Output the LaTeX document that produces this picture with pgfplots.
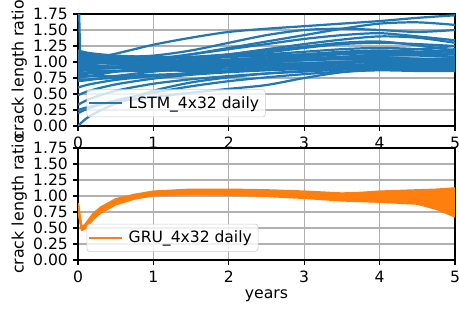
\documentclass[border=0pt]{standalone}
\usepackage{fontspec}
\setmainfont{DejaVu Sans}
\usepackage{pgfplots}
\pgfplotsset{compat=1.18}
\definecolor{mplblue}{HTML}{1F77B4}
\definecolor{mplorange}{HTML}{FF7F0E}
\pgfplotsset{
  mystyle/.style={
    width=271.4pt, height=80.6pt, scale only axis,
    xmin=0, xmax=5, ymin=0, ymax=1.75,
    xtick={0,1,2,3,4,5}, ytick={0,0.25,0.5,0.75,1,1.25,1.5,1.75},
    yticklabel style={/pgf/number format/.cd, fixed, fixed zerofill, precision=2},
    /pgf/number format/assume math mode=true,
    tick label style={font=\fontsize{11.2}{13}\selectfont},
    xticklabel style={yshift=-0.5pt},
    grid=major, major grid style={color=black!31, line width=0.85pt},
    axis line style={line width=0.85pt},
    tick style={line width=0.85pt, black},
    tick align=outside, major tick length=3.8pt,
    xtick pos=bottom, ytick pos=left,
    every axis y label/.style={at={(axis description cs:-0.156,0.5)}, rotate=90, anchor=center, font=\fontsize{11.4}{14}\selectfont},
    ylabel={crack length ratio},
    legend style={at={(axis description cs:0,0)}, anchor=south west, xshift=6.2pt, yshift=6.3pt,
      draw=black!20, fill=white, fill opacity=0.8, text opacity=1, rounded corners=2pt,
      font=\fontsize{11.2}{13}\selectfont, inner xsep=0.5pt, inner ysep=1.5pt,
      nodes={inner xsep=4pt, inner ysep=3.3pt}},
    legend cell align=left,
    legend image code/.code={\draw[#1, line width=1.6pt] (0pt,0pt) -- (24pt,0pt);},
  },
  lstm/.style={mplblue, line width=1.6pt, smooth, forget plot},
}
\begin{document}
\begin{tikzpicture}
\useasboundingbox (0,0) rectangle (330.5pt,-223.9pt);
\begin{axis}[mystyle, at={(56.2pt,-90.7pt)}, anchor=south west]
\addplot[mplblue, line width=1.6pt, smooth] coordinates {(0,1.00)(0.15,1.05)(0.5,1.13)(1,1.27)(1.5,1.38)(2,1.47)(2.5,1.52)(3,1.56)(3.5,1.60)(4,1.64)(4.5,1.69)(5,1.73)};
\addlegendentry{LSTM\_4x32 daily}
\addplot[lstm] coordinates {(0,1.05)(0.15,1.02)(0.5,1.00)(1,1.03)(1.5,1.12)(2,1.22)(2.5,1.32)(3,1.42)(3.5,1.52)(4,1.60)(4.5,1.62)(5,1.58)};
\addplot[lstm] coordinates {(0,1.12)(0.15,1.10)(0.5,1.08)(1,1.10)(1.5,1.18)(2,1.30)(2.5,1.42)(3,1.50)(3.5,1.52)(4,1.50)(4.5,1.47)(5,1.50)};
\addplot[lstm] coordinates {(0,0.95)(0.15,0.97)(0.5,1.00)(1,1.05)(1.5,1.12)(2,1.20)(2.5,1.28)(3,1.36)(3.5,1.42)(4,1.45)(4.5,1.40)(5,1.34)};
\addplot[lstm] coordinates {(0,0.85)(0.15,0.88)(0.5,0.92)(1,0.98)(1.5,1.05)(2,1.12)(2.5,1.20)(3,1.28)(3.5,1.35)(4,1.40)(4.5,1.38)(5,1.30)};
\addplot[lstm] coordinates {(0,1.15)(0.15,1.12)(0.5,1.08)(1,1.05)(1.5,1.06)(2,1.10)(2.5,1.15)(3,1.22)(3.5,1.28)(4,1.30)(4.5,1.28)(5,1.25)};
\addplot[lstm] coordinates {(0,1.08)(0.15,1.06)(0.5,1.05)(1,1.05)(1.5,1.08)(2,1.12)(2.5,1.18)(3,1.24)(3.5,1.30)(4,1.32)(4.5,1.26)(5,1.18)};
\addplot[lstm] coordinates {(0,0.75)(0.15,0.78)(0.5,0.85)(1,0.95)(1.5,1.02)(2,1.08)(2.5,1.12)(3,1.16)(3.5,1.20)(4,1.22)(4.5,1.20)(5,1.15)};
\addplot[lstm] coordinates {(0,1.00)(0.15,0.99)(0.5,0.98)(1,0.98)(1.5,1.00)(2,1.03)(2.5,1.07)(3,1.12)(3.5,1.16)(4,1.18)(4.5,1.16)(5,1.12)};
\addplot[lstm] coordinates {(0,0.92)(0.15,0.92)(0.5,0.93)(1,0.95)(1.5,0.97)(2,1.00)(2.5,1.03)(3,1.06)(3.5,1.08)(4,1.10)(4.5,1.10)(5,1.08)};
\addplot[lstm] coordinates {(0,1.10)(0.15,1.08)(0.5,1.03)(1,1.00)(1.5,0.99)(2,1.00)(2.5,1.02)(3,1.05)(3.5,1.08)(4,1.12)(4.5,1.15)(5,1.20)};
\addplot[lstm] coordinates {(0,0.80)(0.15,0.82)(0.5,0.85)(1,0.88)(1.5,0.92)(2,0.96)(2.5,1.00)(3,1.03)(3.5,1.05)(4,1.06)(4.5,1.05)(5,1.03)};
\addplot[lstm] coordinates {(0,0.70)(0.15,0.72)(0.5,0.78)(1,0.85)(1.5,0.90)(2,0.93)(2.5,0.96)(3,0.98)(3.5,1.00)(4,1.02)(4.5,1.02)(5,1.00)};
\addplot[lstm] coordinates {(0,1.02)(0.15,1.00)(0.5,0.97)(1,0.95)(1.5,0.94)(2,0.94)(2.5,0.95)(3,0.97)(3.5,1.00)(4,1.03)(4.5,1.05)(5,1.05)};
\addplot[lstm] coordinates {(0,0.88)(0.15,0.87)(0.5,0.86)(1,0.86)(1.5,0.88)(2,0.90)(2.5,0.93)(3,0.96)(3.5,0.99)(4,1.01)(4.5,1.00)(5,0.97)};
\addplot[lstm] coordinates {(0,0.60)(0.15,0.65)(0.5,0.72)(1,0.78)(1.5,0.83)(2,0.87)(2.5,0.90)(3,0.93)(3.5,0.95)(4,0.97)(4.5,0.97)(5,0.95)};
\addplot[lstm] coordinates {(0,0.48)(0.15,0.55)(0.5,0.65)(1,0.74)(1.5,0.80)(2,0.84)(2.5,0.87)(3,0.89)(3.5,0.91)(4,0.92)(4.5,0.92)(5,0.92)};
\addplot[lstm] coordinates {(0,0.33)(0.15,0.42)(0.5,0.55)(1,0.66)(1.5,0.73)(2,0.78)(2.5,0.82)(3,0.85)(3.5,0.88)(4,0.90)(4.5,0.90)(5,0.88)};
\addplot[lstm] coordinates {(0,0.25)(0.15,0.30)(0.5,0.38)(1,0.45)(1.5,0.52)(2,0.58)(2.5,0.64)(3,0.75)(3.5,0.84)(4,0.88)(4.5,0.89)(5,0.87)};
\addplot[lstm] coordinates {(0,0.20)(0.15,0.28)(0.5,0.40)(1,0.52)(1.5,0.62)(2,0.70)(2.5,0.76)(3,0.81)(3.5,0.85)(4,0.87)(4.5,0.86)(5,0.86)};
\addplot[lstm] coordinates {(0,0.72)(0.15,0.73)(0.5,0.75)(1,0.78)(1.5,0.82)(2,0.86)(2.5,0.90)(3,0.94)(3.5,0.98)(4,1.00)(4.5,0.98)(5,0.94)};
\addplot[lstm] coordinates {(0,0.78)(0.15,0.78)(0.5,0.78)(1,0.80)(1.5,0.82)(2,0.85)(2.5,0.88)(3,0.91)(3.5,0.93)(4,0.95)(4.5,0.95)(5,0.93)};
\addplot[lstm] coordinates {(0,0.98)(0.15,0.96)(0.5,0.92)(1,0.88)(1.5,0.86)(2,0.86)(2.5,0.88)(3,0.91)(3.5,0.94)(4,0.97)(4.5,0.99)(5,1.00)};
\addplot[lstm] coordinates {(0,1.06)(0.15,1.04)(0.5,1.02)(1,1.01)(1.5,1.02)(2,1.04)(2.5,1.07)(3,1.10)(3.5,1.13)(4,1.16)(4.5,1.20)(5,1.25)};
\addplot[lstm] coordinates {(0,0.90)(0.15,0.90)(0.5,0.90)(1,0.91)(1.5,0.93)(2,0.96)(2.5,0.99)(3,1.03)(3.5,1.07)(4,1.10)(4.5,1.12)(5,1.13)};
\addplot[lstm] coordinates {(0,1.13)(0.15,1.11)(0.5,1.07)(1,1.02)(1.5,0.98)(2,0.97)(2.5,0.97)(3,0.98)(3.5,1.00)(4,1.02)(4.5,1.04)(5,1.06)};
\addplot[lstm] coordinates {(0,0.83)(0.15,0.84)(0.5,0.86)(1,0.90)(1.5,0.95)(2,1.00)(2.5,1.04)(3,1.08)(3.5,1.12)(4,1.14)(4.5,1.12)(5,1.08)};
\addplot[lstm] coordinates {(0,0.00)(0.15,0.15)(0.5,0.35)(1,0.55)(1.5,0.68)(2,0.76)(2.5,0.82)(3,0.86)(3.5,0.89)(4,0.91)(4.5,0.92)(5,0.90)};
\addplot[lstm] coordinates {(0,0.95)(0.15,0.94)(0.5,0.93)(1,0.93)(1.5,0.95)(2,0.98)(2.5,1.01)(3,1.03)(3.5,1.04)(4,1.04)(4.5,1.02)(5,1.00)};
\addplot[lstm] coordinates {(0,1.18)(0.15,1.14)(0.5,1.10)(1,1.08)(1.5,1.08)(2,1.08)(2.5,1.10)(3,1.12)(3.5,1.14)(4,1.15)(4.5,1.15)(5,1.12)};
\addplot[mplblue, line width=1.6pt, forget plot] coordinates {(0,2.5)(0.03,1.0)(0.5,0.97)(1,0.97)(2,1.0)(3,1.05)(4,1.08)(5,1.02)};
\end{axis}
\begin{axis}[mystyle, at={(56.2pt,-187.2pt)}, anchor=south west,
  legend style={yshift=-0.3pt},
  xlabel={years},
  every axis x label/.style={at={(axis description cs:0.5,-0.318)}, anchor=center, font=\fontsize{11.3}{14}\selectfont}]
\addplot[mplorange, fill=mplorange, line width=1.6pt, line join=round, forget plot] coordinates {
(0,0.88)(0.02,0.70)(0.05,0.50)(0.1,0.56)(0.2,0.72)(0.3,0.82)(0.5,0.95)(0.75,1.02)(1,1.07)(1.5,1.10)(2,1.10)(2.5,1.09)(3,1.07)(3.5,1.04)(3.75,1.05)(4,1.07)(4.5,1.09)(4.75,1.10)(5,1.12)
(5,0.68)(4.75,0.80)(4.5,0.88)(4,0.91)(3.75,0.92)(3.5,0.93)(3,0.97)(2.5,1.00)(2,1.02)(1.5,1.03)(1,1.01)(0.75,0.96)(0.5,0.87)(0.3,0.74)(0.2,0.64)(0.1,0.50)(0.05,0.47)(0.02,0.66)(0,0.86)} -- cycle;
\addplot[mplorange, line width=1.6pt] coordinates {(0,0.87)(0.02,0.68)(0.05,0.48)(0.1,0.53)(0.2,0.68)(0.3,0.78)(0.5,0.91)(0.75,0.99)(1,1.04)(1.5,1.07)(2,1.06)(2.5,1.05)(3,1.02)(3.5,0.99)(3.75,0.99)(4,1.0)(4.5,1.0)(4.75,0.97)(5,0.92)};
\addlegendentry{GRU\_4x32 daily}
\end{axis}
\end{tikzpicture}
\end{document}
